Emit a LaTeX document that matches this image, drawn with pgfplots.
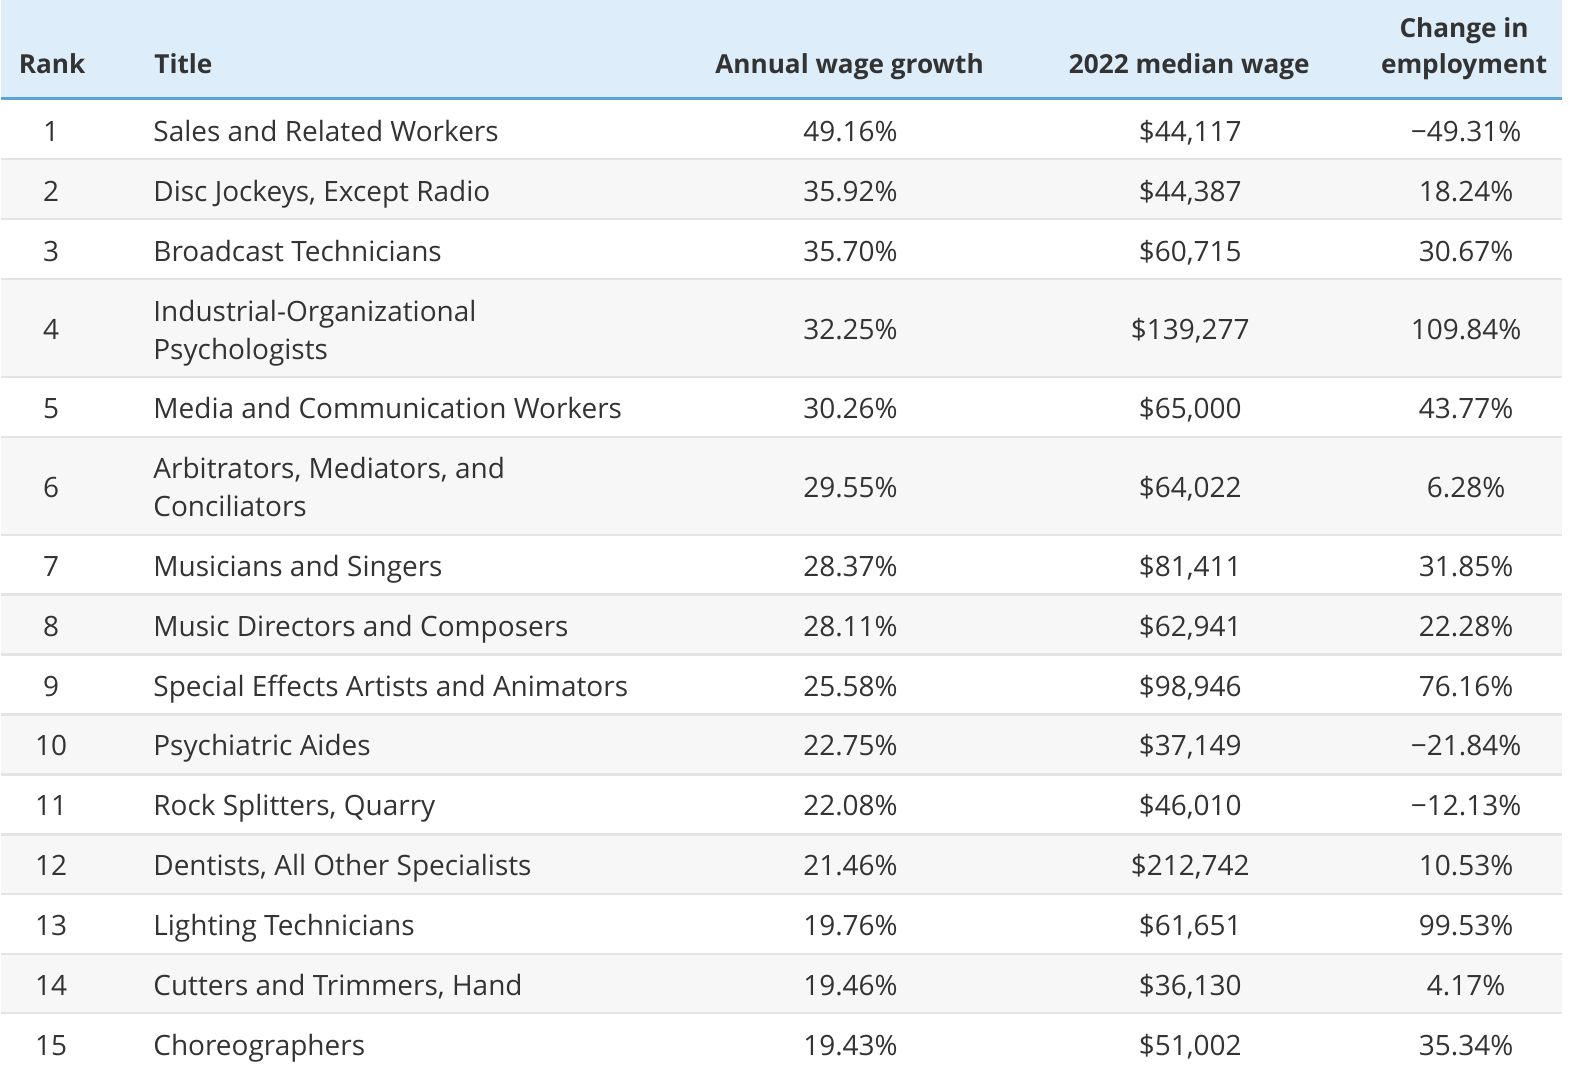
\documentclass[border=0pt]{standalone}
\usepackage{pgfplots}
\pgfplotsset{compat=1.18}
\usepackage{pgfplotstable}
\usepackage{fontspec}
\setmainfont{Open Sans}
\definecolor{hdr}{HTML}{DDEEFA}
\definecolor{blueline}{HTML}{5BA4D4}
\definecolor{stripe}{HTML}{F7F7F7}
\definecolor{sepc}{HTML}{E4E4E4}
\definecolor{txt}{HTML}{333333}

\pgfplotstableread[col sep=semicolon]{
x;y;t
51;74;Rank
1189;74;2022 median wage
849;74;Annual wage growth
1464;38;Change in
1464;74;employment
}\headc
\pgfplotstableread[col sep=semicolon]{
x;y;t
153;74;Title
}\headl

\pgfplotstableread[col sep=semicolon]{
x;y;t
50;141.5;1
50;201.5;2
50;261.5;3
50;339.5;4
50;418.5;5
50;497.5;6
50;576.5;7
50;636.5;8
50;696.5;9
50;756.5;10
50;816.5;11
50;876.5;12
50;936.5;13
50;996.5;14
50;1056.5;15
}\rankdata

\pgfplotstableread[col sep=semicolon]{
x;y;t
152;141.5;Sales and Related Workers
152;201.5;Disc Jockeys, Except Radio
152;261.5;Broadcast Technicians
152;321.5;Industrial-Organizational
152;359.5;Psychologists
152;418.5;Media and Communication Workers
152;478.5;Arbitrators, Mediators, and
152;516.5;Conciliators
152;576.5;Musicians and Singers
152;636.5;Music Directors and Composers
152;696.5;Special Effects Artists and Animators
152;756.5;Psychiatric Aides
152;816.5;Rock Splitters, Quarry
152;876.5;Dentists, All Other Specialists
152;936.5;Lighting Technicians
152;996.5;Cutters and Trimmers, Hand
152;1056.5;Choreographers
}\titledata

\pgfplotstableread[col sep=semicolon]{
x;y;t
850;141.5;49.16
850;201.5;35.92
850;261.5;35.70
850;339.5;32.25
850;418.5;30.26
850;497.5;29.55
850;576.5;28.37
850;636.5;28.11
850;696.5;25.58
850;756.5;22.75
850;816.5;22.08
850;876.5;21.46
850;936.5;19.76
850;996.5;19.46
850;1056.5;19.43
}\growthdata

\pgfplotstableread[col sep=semicolon]{
x;y;t
1190;141.5;44,117
1190;201.5;44,387
1190;261.5;60,715
1190;339.5;139,277
1190;418.5;65,000
1190;497.5;64,022
1190;576.5;81,411
1190;636.5;62,941
1190;696.5;98,946
1190;756.5;37,149
1190;816.5;46,010
1190;876.5;212,742
1190;936.5;61,651
1190;996.5;36,130
1190;1056.5;51,002
}\wagedata

\pgfplotstableread[col sep=semicolon]{
x;y;t
1466;141.5;−49.31
1466;201.5;18.24
1466;261.5;30.67
1466;339.5;109.84
1466;418.5;43.77
1466;497.5;6.28
1466;576.5;31.85
1466;636.5;22.28
1466;696.5;76.16
1466;756.5;−21.84
1466;816.5;−12.13
1466;876.5;10.53
1466;936.5;99.53
1466;996.5;4.17
1466;1056.5;35.34
}\changedata

\newcommand{\bodyfont}{\fontsize{14bp}{16bp}\selectfont}
\newcommand{\headfont}{\fontsize{13.1bp}{16bp}\selectfont\bfseries}

\begin{document}
\begin{tikzpicture}
\begin{axis}[
  scale only axis, width=786bp, height=541bp,
  xmin=0, xmax=1572, ymin=0, ymax=1082, y dir=reverse,
  hide axis, clip=false,
  every axis plot/.append style={draw=none, mark=none},
  point meta=explicit symbolic,
]
% backgrounds
\fill[white] (axis cs:0,0) rectangle (axis cs:1572,1082);
\fill[hdr] (axis cs:0,0) rectangle (axis cs:1562,97);
\fill[blueline] (axis cs:0,97) rectangle (axis cs:1562,100.5);
\fill[stripe] (axis cs:0,159) rectangle (axis cs:1562,219);
\fill[stripe] (axis cs:0,279) rectangle (axis cs:1562,377);
\fill[stripe] (axis cs:0,437) rectangle (axis cs:1562,535);
\fill[stripe] (axis cs:0,595) rectangle (axis cs:1562,655);
\fill[stripe] (axis cs:0,715) rectangle (axis cs:1562,775);
\fill[stripe] (axis cs:0,835) rectangle (axis cs:1562,895);
\fill[stripe] (axis cs:0,955) rectangle (axis cs:1562,1014);
\draw[sepc, line width=1.1bp] (axis cs:0,159) -- (axis cs:1562,159);
\draw[sepc, line width=1.1bp] (axis cs:0,219) -- (axis cs:1562,219);
\draw[sepc, line width=1.1bp] (axis cs:0,279) -- (axis cs:1562,279);
\draw[sepc, line width=1.1bp] (axis cs:0,377) -- (axis cs:1562,377);
\draw[sepc, line width=1.1bp] (axis cs:0,437) -- (axis cs:1562,437);
\draw[sepc, line width=1.1bp] (axis cs:0,535) -- (axis cs:1562,535);
\draw[sepc, line width=1.1bp] (axis cs:0,595) -- (axis cs:1562,595);
\draw[sepc, line width=1.1bp] (axis cs:0,655) -- (axis cs:1562,655);
\draw[sepc, line width=1.1bp] (axis cs:0,715) -- (axis cs:1562,715);
\draw[sepc, line width=1.1bp] (axis cs:0,775) -- (axis cs:1562,775);
\draw[sepc, line width=1.1bp] (axis cs:0,835) -- (axis cs:1562,835);
\draw[sepc, line width=1.1bp] (axis cs:0,895) -- (axis cs:1562,895);
\draw[sepc, line width=1.1bp] (axis cs:0,955) -- (axis cs:1562,955);
\draw[sepc, line width=1.1bp] (axis cs:0,1014) -- (axis cs:1562,1014);
% header
\addplot[nodes near coords, nodes near coords style={anchor=base, inner sep=0pt, font=\headfont, text=txt}]
  table[x=x, y=y, meta=t]{\headc};
\addplot[nodes near coords, nodes near coords style={anchor=base west, inner sep=0pt, font=\headfont, text=txt}]
  table[x=x, y=y, meta=t]{\headl};
% body
\addplot[nodes near coords, nodes near coords style={anchor=base, inner sep=0pt, font=\bodyfont, text=txt}]
  table[x=x, y=y, meta=t]{\rankdata};
\addplot[nodes near coords, nodes near coords style={anchor=base west, inner sep=0pt, font=\bodyfont, text=txt}]
  table[x=x, y=y, meta=t]{\titledata};
\addplot[nodes near coords={\pgfplotspointmeta\%}, nodes near coords style={anchor=base, inner sep=0pt, font=\bodyfont, text=txt}]
  table[x=x, y=y, meta=t]{\growthdata};
\addplot[nodes near coords={\$\pgfplotspointmeta}, nodes near coords style={anchor=base, inner sep=0pt, font=\bodyfont, text=txt}]
  table[x=x, y=y, meta=t]{\wagedata};
\addplot[nodes near coords={\pgfplotspointmeta\%}, nodes near coords style={anchor=base, inner sep=0pt, font=\bodyfont, text=txt}]
  table[x=x, y=y, meta=t]{\changedata};
\end{axis}
\end{tikzpicture}
\end{document}
